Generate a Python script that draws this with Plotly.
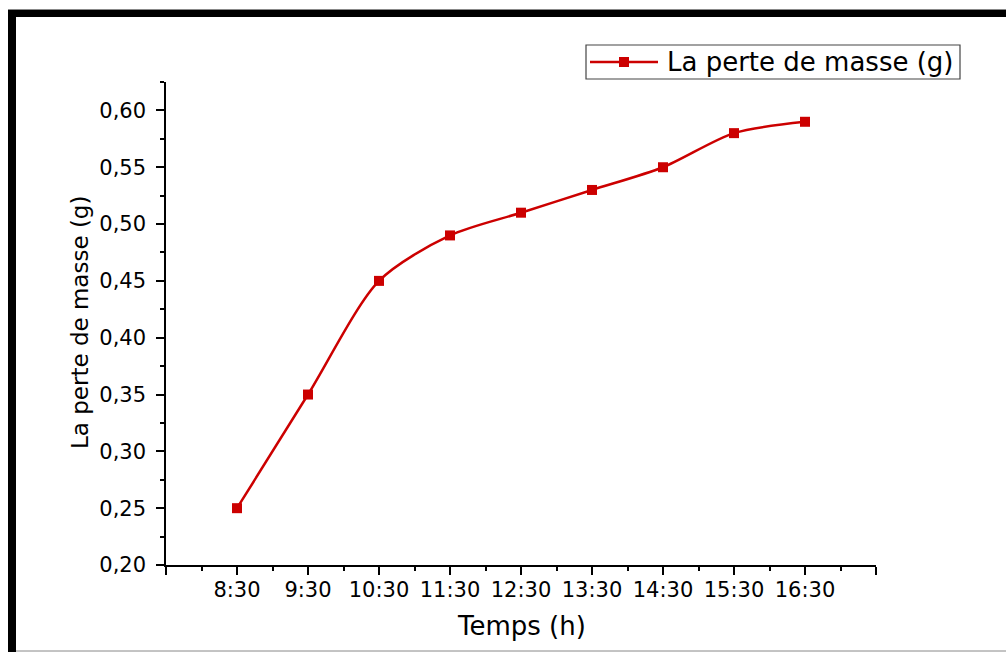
import plotly.graph_objects as go

# Mass loss measured over the day
temps = ["8:30", "9:30", "10:30", "11:30", "12:30", "13:30", "14:30", "15:30", "16:30"]
perte_masse = [0.25, 0.35, 0.45, 0.49, 0.51, 0.53, 0.55, 0.58, 0.59]
y_ticks = [0.20, 0.25, 0.30, 0.35, 0.40, 0.45, 0.50, 0.55, 0.60]
series_name = "La perte de masse (g)"

W, H = 1006, 652
RED = "#cc0000"
FONT = "DejaVu Sans"

# hour positions on a linear axis, one unit apart, with a spare unit on each side
pos = list(range(1, len(temps) + 1))
x_major = list(range(0, len(temps) + 2))
x_labels = [""] + temps + [""]
x_minor = [v + 0.5 for v in x_major[:-1]]
y_minor = [0.2 + 0.025 * i for i in range(18)]


def px(x):
    return x / W


def py(y):
    return 1 - y / H


fig = go.Figure()
fig.add_trace(go.Scatter(
    x=pos, y=perte_masse,
    mode="lines+markers",
    name=series_name,
    line=dict(color=RED, width=2.5, shape="spline", smoothing=0.8),
    marker=dict(symbol="square", size=10, color=RED),
    showlegend=False,
))

axis_common = dict(
    showline=True, linecolor="black", linewidth=1.5,
    ticks="outside", ticklen=8, tickwidth=1.5, tickcolor="black",
    showgrid=False, zeroline=False, mirror=False,
    tickfont=dict(family=FONT, size=21, color="black"),
)

# boxed key in the upper right: frame, sample line with marker, label
key_x0, key_x1, key_y0, key_y1 = 586, 960, 45, 79
key_mid = (key_y0 + key_y1) / 2
key_shapes = [
    dict(type="rect", xref="paper", yref="paper",
         x0=px(key_x0), x1=px(key_x1), y0=py(key_y1), y1=py(key_y0),
         fillcolor="white", line=dict(color="#444444", width=1.2)),
    dict(type="line", xref="paper", yref="paper",
         x0=px(590), x1=px(658), y0=py(key_mid), y1=py(key_mid),
         line=dict(color=RED, width=2.5)),
    dict(type="rect", xref="paper", yref="paper",
         x0=px(619), x1=px(629), y0=py(key_mid + 5), y1=py(key_mid - 5),
         fillcolor=RED, line=dict(width=0)),
]

frame_shapes = [
    # heavy black frame on the left and top edges
    dict(type="rect", xref="paper", yref="paper", x0=px(8), x1=px(16), y0=0, y1=py(10),
         fillcolor="black", line=dict(width=0)),
    dict(type="rect", xref="paper", yref="paper", x0=px(8), x1=1, y0=py(17), y1=py(10),
         fillcolor="black", line=dict(width=0)),
    dict(type="line", xref="paper", yref="paper", x0=px(8), x1=1, y0=py(9.5), y1=py(9.5),
         line=dict(color="#888888", width=1)),
    dict(type="line", xref="paper", yref="paper", x0=px(16), x1=1, y0=py(651), y1=py(651),
         line=dict(color="#888888", width=1)),
]

fig.update_layout(
    width=W, height=H,
    margin=dict(l=0, r=0, t=0, b=0),
    paper_bgcolor="white", plot_bgcolor="white",
    separators=", ",
    font=dict(family=FONT, color="black"),
    xaxis=dict(
        axis_common,
        domain=[px(166), px(876)],
        range=[0, len(temps) + 1],
        tickmode="array", tickvals=x_major, ticktext=x_labels,
        ticklabelstandoff=-3,
        minor=dict(tickmode="array", tickvals=x_minor, ticks="outside",
                   ticklen=4, tickwidth=1.5, tickcolor="black"),
        anchor="y", automargin=False,
    ),
    yaxis=dict(
        axis_common,
        domain=[py(565), py(82)],
        range=[0.2, 0.625],
        tickmode="array", tickvals=y_ticks, tickformat=".2f",
        ticklabelstandoff=6,
        minor=dict(tickmode="array", tickvals=y_minor, ticks="outside",
                   ticklen=4, tickwidth=1.5, tickcolor="black"),
        anchor="x", automargin=False,
    ),
    showlegend=False,
    annotations=[
        dict(text=series_name, x=px(665), y=py(key_mid), xref="paper", yref="paper",
             showarrow=False, font=dict(family=FONT, size=26, color="black"),
             xanchor="left", yanchor="middle"),
        dict(text="Temps (h)", x=px(521), y=py(626), xref="paper", yref="paper",
             showarrow=False, font=dict(family=FONT, size=26, color="black"),
             xanchor="center", yanchor="middle"),
        dict(text=series_name, x=px(80), y=py(323), xref="paper", yref="paper",
             showarrow=False, textangle=-90, font=dict(family=FONT, size=23, color="black"),
             xanchor="center", yanchor="middle"),
    ],
    shapes=frame_shapes + key_shapes,
)

fig.write_html("out.html")
